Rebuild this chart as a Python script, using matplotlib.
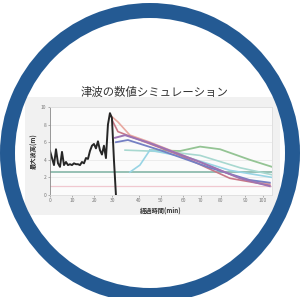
import matplotlib
matplotlib.use("Agg")
import matplotlib.pyplot as plt
from matplotlib.patches import Wedge, Rectangle

plt.rcParams['font.family'] = ['Noto Sans CJK JP', 'DejaVu Sans']

title = "津波の数値シミュレーション"
xlabel = "経過時間(min)"
ylabel = "最大波高(m)"

black_x = [0, 0.9, 1.8, 2.7, 3.6, 4.5, 5.4, 6.3, 7.2, 8.1, 9.0, 9.9, 10.8, 11.7, 12.6, 13.5,
           14.4, 15.3, 16.2, 17.1, 18.0, 18.9, 19.8, 20.7, 21.6, 22.5, 23.4, 24.3, 25.2, 26.1,
           27.0, 27.9, 28.8, 29.7]
black_y = [5.0, 4.2, 3.4, 5.2, 3.6, 3.2, 4.9, 3.4, 3.75, 3.4, 3.5, 3.4, 3.6, 3.5, 3.5, 3.4,
           3.75, 3.6, 4.2, 4.1, 5.0, 5.6, 5.8, 5.3, 6.1, 5.1, 4.6, 5.6, 4.2, 8.0,
           9.3, 8.75, 4.0, 0.0]

red_x = [28, 30.6, 40.5, 58.6, 81, 99]
red_y = [8.5, 7.2, 6.25, 4.5, 1.9, 1.1]
purple_x = [29.3, 33.8, 45, 67.6, 85.6, 99]
purple_y = [6.5, 6.8, 5.9, 3.75, 1.9, 1.0]
blue_x = [29.7, 35.1, 49.5, 72, 90, 99]
blue_y = [6.0, 6.25, 5.1, 3.1, 1.7, 1.4]
salmon_x = [27, 30.6, 36, 45, 63, 85.6, 99]
salmon_y = [9.1, 8.3, 6.8, 6.0, 4.2, 1.9, 1.25]
green_x = [45, 58.6, 67.6, 76.6, 90, 100]
green_y = [5.1, 5.0, 5.5, 5.2, 4.0, 3.2]
teal_x = [33.8, 54, 67.6, 85.6, 100]
teal_y = [5.1, 4.9, 4.5, 3.1, 2.3]
cyan_x = [36, 40.5, 45, 63, 81, 100]
cyan_y = [2.6, 3.4, 5.1, 4.2, 2.8, 2.0]
hline_teal = 2.6
hline_pink = 1.0

xticks = [0, 10, 20, 28, 40, 50, 60, 68, 77, 88, 96]
xtick_labels = ["0", "10", "20", "30", "40", "50", "60", "70", "80", "90", "100"]
yticks = [0, 2, 4, 6, 8, 10]

W, H = 300, 297
fig = plt.figure(figsize=(W / 100, H / 100), dpi=100)
bg = fig.add_axes([0, 0, 1, 1])
bg.set_xlim(0, W)
bg.set_ylim(H, 0)
bg.axis('off')
bg.add_patch(Rectangle((25, 97), 255, 118, facecolor='#f1f1f1', edgecolor='none'))
bg.add_patch(Wedge((150, 153), 150, 0, 360, width=15, facecolor='#245a93', edgecolor='none'))
bg.text(155, 92, title, ha='center', va='center', fontsize=8.2, color='#333333')

ax = fig.add_axes([50 / W, 1 - 195 / H, 222 / W, 88 / H])
ax.set_facecolor('#fbfbfb')
ax.set_xlim(0, 100)
ax.set_ylim(0, 10)
for yv in [2, 4, 6, 8]:
    ax.axhline(yv, color='#e6e6e6', lw=0.5)
ax.axhline(hline_teal, color='#7ab0a0', lw=1.1)
ax.axhline(hline_pink, color='#f0c8d0', lw=0.9)
ax.plot(green_x, green_y, color='#94c494', lw=1.3)
ax.plot(teal_x, teal_y, color='#a8d8d0', lw=1.2)
ax.plot(cyan_x, cyan_y, color='#98d4e4', lw=1.2)
ax.plot(salmon_x, salmon_y, color='#e8a8a0', lw=1.2)
ax.plot(red_x, red_y, color='#c87888', lw=1.2)
ax.plot(blue_x, blue_y, color='#7480c4', lw=1.3)
ax.plot(purple_x, purple_y, color='#9c74b4', lw=1.4)
ax.plot(black_x, black_y, color='#262626', lw=1.4)
for s in ax.spines.values():
    s.set_color('#dddddd')
    s.set_linewidth(0.6)
ax.spines['left'].set_color('#888888')
ax.set_xticks(xticks)
ax.set_xticklabels(xtick_labels, fontsize=3.5, color='#666666')
ax.set_yticks(yticks)
ax.set_yticklabels([str(v) for v in yticks], fontsize=3.5, color='#666666')
ax.tick_params(length=1.5, width=0.4, pad=1, colors='#777777')
ax.set_xlabel(xlabel, fontsize=4.5, color='#333333', labelpad=2, fontweight='bold')
ax.set_ylabel(ylabel, fontsize=4.5, color='#333333', labelpad=2, fontweight='bold')

fig.savefig("out.png", dpi=100)
